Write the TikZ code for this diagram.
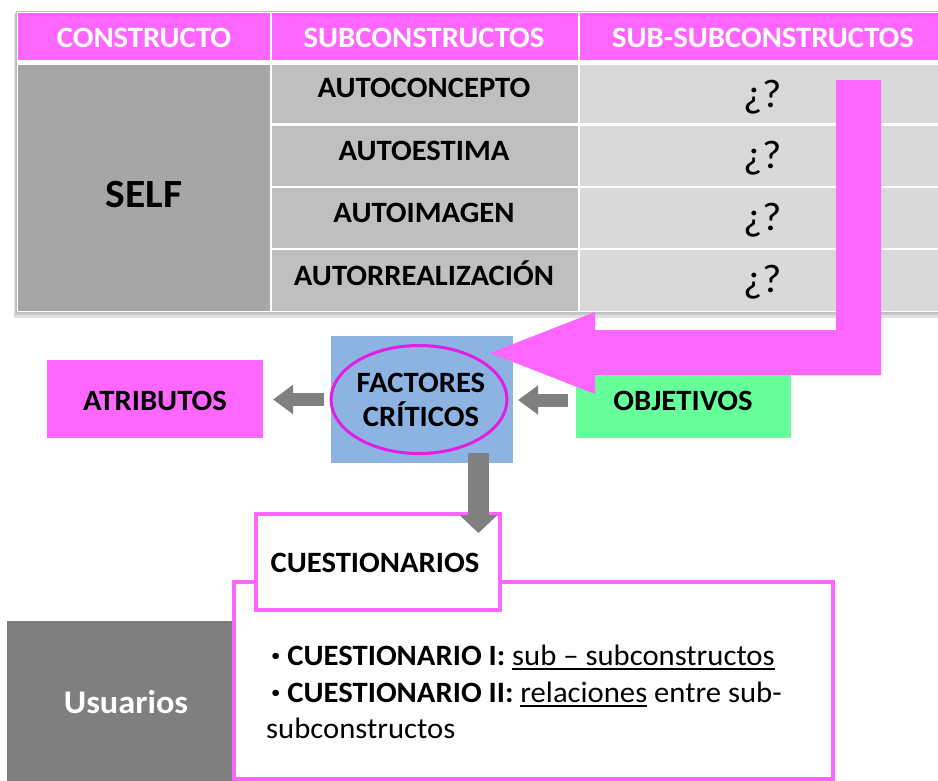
\documentclass[tikz,border=0pt]{standalone}
\usepackage{fontspec}
\setmainfont{Carlito}[FakeStretch=1.04]
\usetikzlibrary{arrows.meta}
\definecolor{pinkc}{HTML}{FF66FF}
\definecolor{magc}{HTML}{E21EE2}
\definecolor{selfg}{HTML}{A6A6A6}
\definecolor{subg}{HTML}{BFBFBF}
\definecolor{ssubg}{HTML}{D9D9D9}
\definecolor{bluec}{HTML}{8DB3E2}
\definecolor{greenc}{HTML}{66FF99}
\definecolor{arrg}{HTML}{808080}
\definecolor{usug}{HTML}{7F7F7F}
\newcommand{\ulin}[1]{\vtop{\hbox{#1}\kern3pt\hrule height 1.6pt}}
\newcommand{\smbul}{{\fontsize{18}{18}\selectfont\raisebox{4pt}{•}}}
\begin{document}
\begin{tikzpicture}[x=1pt,y=-1pt,
  cell/.style={rectangle,anchor=north west,inner sep=0,outer sep=0,draw=none},
  hdrtxt/.style={font=\fontsize{29.5}{31}\selectfont\bfseries,text=white,anchor=base,inner sep=0},
  subtxt/.style={font=\fontsize{29.5}{31}\selectfont\bfseries,text=black,anchor=base,inner sep=0},
  qtxt/.style={font=\fontsize{40}{44}\selectfont,text=black,anchor=base,inner sep=0},
  btxt/.style={font=\fontsize{29.5}{31}\selectfont,text=black,anchor=base west,inner sep=0},
  garrow/.style={draw=arrg,line width=13pt,-{Triangle[width=28pt,length=20pt]}},
  pinkbox/.style={rectangle,draw=pinkc,line width=4pt,fill=white,anchor=north west,inner sep=0}
]
\useasboundingbox (0,0) rectangle (938,780);
% table shadow and frame
\fill[black!12] (14,14) rectangle (946,318);
\fill[black!22] (15,13) rectangle (946,315);
\fill[white] (16,11) rectangle (946,313);
\draw[black!25,line width=0.8pt] (16.5,11.5) rectangle (950,312.5);
% header cells
\node[cell,fill=pinkc,minimum width=252pt,minimum height=47pt] (h1) at (18,13) {};
\node[cell,fill=pinkc,minimum width=306pt,minimum height=47pt] (h2) at (272,13) {};
\node[cell,fill=pinkc,minimum width=370pt,minimum height=47pt] (h3) at (580,13) {};
\node[hdrtxt] (th1) at (144,47) {CONSTRUCTO};
\node[hdrtxt] (th2) at (424,47) {SUBCONSTRUCTOS};
\node[hdrtxt] (th3) at (763,47) {SUB-SUBCONSTRUCTOS};
% body
\node[cell,fill=selfg,minimum width=252pt,minimum height=246pt] (cself) at (18,65) {};
\node[cell,fill=subg,minimum width=306pt,minimum height=58pt] (s1) at (272,65) {};
\node[cell,fill=subg,minimum width=306pt,minimum height=60pt] (s2) at (272,126) {};
\node[cell,fill=subg,minimum width=306pt,minimum height=60pt] (s3) at (272,188) {};
\node[cell,fill=subg,minimum width=306pt,minimum height=61pt] (s4) at (272,250) {};
\node[cell,fill=ssubg,minimum width=370pt,minimum height=58pt] (q1) at (580,65) {};
\node[cell,fill=ssubg,minimum width=370pt,minimum height=60pt] (q2) at (580,126) {};
\node[cell,fill=ssubg,minimum width=370pt,minimum height=60pt] (q3) at (580,188) {};
\node[cell,fill=ssubg,minimum width=370pt,minimum height=61pt] (q4) at (580,250) {};
\node[subtxt,font=\fontsize{40}{42}\selectfont\bfseries] (tself) at (144,207) {SELF};
\node[subtxt] (ts1) at (424,97) {AUTOCONCEPTO};
\node[subtxt] (ts2) at (424,160) {AUTOESTIMA};
\node[subtxt] (ts3) at (424,222) {AUTOIMAGEN};
\node[subtxt] (ts4) at (424,285) {AUTORREALIZACIÓN};
\node[qtxt] (tq1) at (763,107) {¿?};
\node[qtxt] (tq2) at (763,168) {¿?};
\node[qtxt] (tq3) at (763,230) {¿?};
\node[qtxt] (tq4) at (763,292) {¿?};
% middle boxes
\node[cell,fill=pinkc,minimum width=216pt,minimum height=78pt] (atr) at (47,360) {};
\node[subtxt] (tatr) at (155,410) {ATRIBUTOS};
\node[cell,fill=greenc,minimum width=215pt,minimum height=76pt] (obj) at (576,362) {};
\node[subtxt] (tobj) at (683,410) {OBJETIVOS};
\node[cell,fill=bluec,minimum width=182pt,minimum height=127pt] (fc) at (331,336) {};
\draw[magc,line width=3pt] (419,399.5) ellipse [x radius=88pt,y radius=54pt];
\node[subtxt] (tfc1) at (421,392) {FACTORES};
\node[subtxt] (tfc2) at (421,426) {CRÍTICOS};
% pink bent arrow
\fill[pinkc] (836,80) -- (881,80) -- (881,375) -- (595,375) -- (595,394) -- (490,353)
  -- (595,312) -- (595,330) -- (836,330) -- cycle;
% gray arrows
\draw[garrow] ([xshift=-7pt]fc.west) -- ([xshift=10pt]fc.west -| atr.east);
\draw[garrow] ([xshift=-8pt]obj.west) -- ([xshift=5pt]obj.west -| fc.east);
% bottom
\node[cell,fill=usug,minimum width=225pt,minimum height=170pt] (usu) at (7,621) {};
\node[subtxt,text=white,font=\fontsize{33}{35}\selectfont\bfseries] (tusu) at (126,713) {Usuarios};
\node[pinkbox,minimum width=599pt,minimum height=197pt] (big) at (232,580) {};
\node[pinkbox,minimum width=244pt,minimum height=96pt] (cue) at (254,512) {};
\node[subtxt] (tcue) at (375,572) {CUESTIONARIOS};
\coordinate (dtop) at (478.5,453);
\coordinate (dtip) at (478.5,533);
\draw[draw=arrg,line width=21pt,-{Triangle[width=37pt,length=18pt]}] (dtop) -- (dtip);
\node[btxt] (b1) at (271,665) {\smbul{} \textbf{CUESTIONARIO I:} \ulin{sub – subconstructos}};
\node[btxt] (b2) at (271,702) {\smbul{} \textbf{CUESTIONARIO II:} \ulin{relaciones} entre sub-};
\node[btxt] (b3) at (266,738) {subconstructos};
\end{tikzpicture}
\end{document}
